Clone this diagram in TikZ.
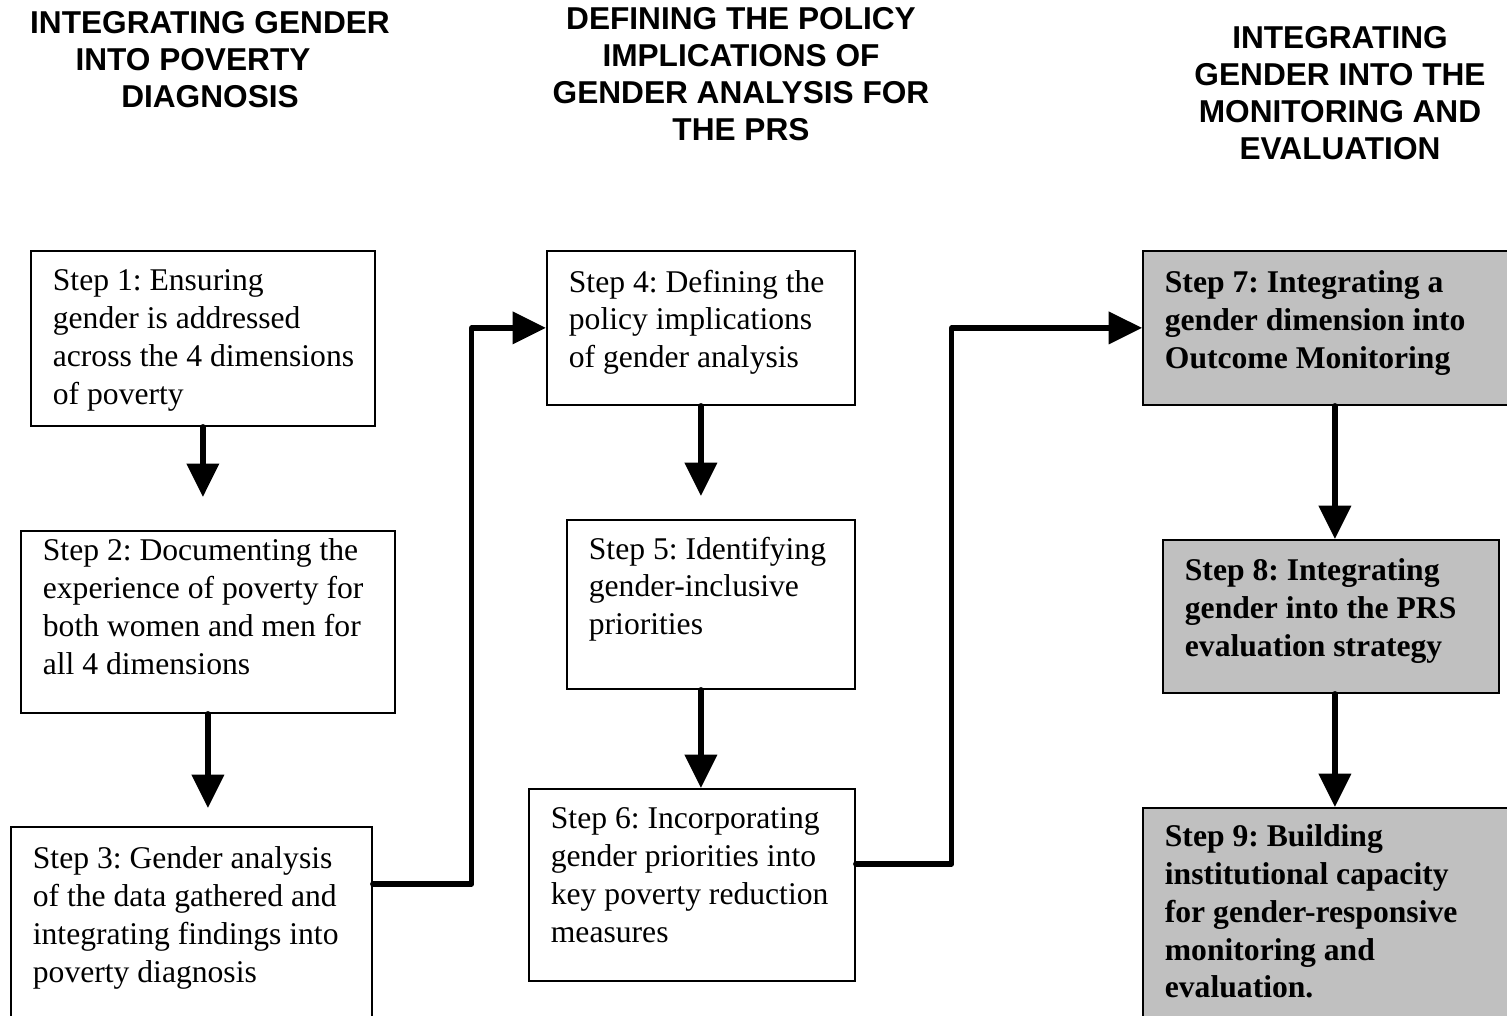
\documentclass[tikz,border=0pt]{standalone}
\usepackage{fontspec}
\setmainfont{Liberation Serif}
\setsansfont{Liberation Sans}
\usetikzlibrary{
  arrows.meta, % for the Triangle arrow tip
}
\frenchspacing
\newdimen\pxu \pxu=0.02cm % one pixel of the layout
\newcommand{\boxtext}[3]{% inner width, inner height, lines of a step box
  \parbox[t][#2\pxu][t]{#1\pxu}{\rightskip=-30\pxu plus 1fil\relax #3}}
\definecolor{boxgray}{RGB}{192,192,192}
\tikzset{
  stepbox/.style={ % style for a plain step box
    rectangle,draw,line width=1pt, % thin black frame
    anchor=north west, % placed by its top left corner
    inner xsep=22\pxu, % padding left and right of the text
    inner ysep=19\pxu, % padding above the text
    font=\fontsize{18}{21.5}\selectfont,
  },
  keybox/.style={ % style for the shaded boxes of the last phase
    stepbox, % inherit the step box style
    fill=boxgray, % add a fill color
    font=\fontsize{18}{21.5}\selectfont\bfseries,
  },
  heading/.style={ % style for the phase titles
    align=center,
    font=\sffamily\bfseries\fontsize{18}{21}\selectfont,
  },
  flow/.style={ % style for the connectors
    -{Triangle[length=19pt,width=18pt]}, % big solid arrow tip
    line width=3pt, % heavy line
    line cap=round, line join=round,
  },
}
\begin{document}
\begin{tikzpicture}[x=0.02cm, y=-0.02cm]
	\clip (0,0) rectangle (1507,1016);
	
	% phase titles
	\node[heading] (h1) at (210,60) {INTEGRATING GENDER\\INTO POVERTY\hspace*{34\pxu}\mbox{}\\DIAGNOSIS};
	
	\node[heading] (h2) at (741,74) {DEFINING THE POLICY\\IMPLICATIONS OF\\GENDER ANALYSIS FOR\\THE PRS};
	
	\node[heading] (h3) at (1340,93) {INTEGRATING\\GENDER INTO THE\\MONITORING AND\\EVALUATION};
	
	% first column
	\node[stepbox] (s1) at (30,250) {\boxtext{300}{137}{Step 1: Ensuring\\gender is addressed\\across the 4 dimensions\\of poverty}};
	
	\node[stepbox, inner ysep=8\pxu] (s2) at (20,530) {\boxtext{330}{166}{Step 2: Documenting the\\experience of poverty for\\both women and men for\\all 4 dimensions}};
	
	\node[stepbox, inner ysep=20\pxu] (s3) at (10,826) {\boxtext{317}{180}{Step 3: Gender analysis\\of the data gathered and\\integrating findings into\\poverty diagnosis}};
	
	% second column
	\node[stepbox] (s4) at (546,250) {\boxtext{264}{116}{Step 4: Defining the\\policy implications\\of gender analysis}};
	
	\node[stepbox, inner ysep=17\pxu] (s5) at (566,519) {\boxtext{244}{135}{Step 5: Identifying\\gender-inclusive\\priorities}};
	
	\node[stepbox] (s6) at (528,788) {\boxtext{282}{154}{Step 6: Incorporating\\gender priorities into\\key poverty reduction\\measures}};
	
	% third column
	\node[keybox, inner ysep=20\pxu] (s7) at (1142,250) {\boxtext{340}{114}{Step 7: Integrating a\\gender dimension into\\Outcome Monitoring}};
	
	\node[keybox] (s8) at (1162,539) {\boxtext{292}{115}{Step 8: Integrating\\gender into the PRS\\evaluation strategy}};
	
	\node[keybox, inner ysep=17\pxu] (s9) at (1142,807) {\boxtext{340}{206}{Step 9: Building\\institutional capacity\\for gender-responsive\\monitoring and\\evaluation.}};
	
	% connectors
	\draw[flow, shorten >=33\pxu] (s1.south) -- (s1.south |- s2.north);
	\draw[flow, shorten >=18\pxu] (s2.south) -- (s2.south |- s3.north);
	\draw[flow] (s3.north east) ++(0,58) -- ++(99,0) |- (s4.west);
	\draw[flow, shorten >=23\pxu] (s4.south) -- (s4.south |- s5.north);
	\draw[flow] (s5.south -| s4.south) -- (s4.south |- s6.north);
	\draw[flow] (s6.north east) ++(0,76) -- ++(96,0) |- (s7.west);
	\draw[flow] (s7.south) -- (s7.south |- s8.north);
	\draw[flow] (s8.south -| s7.south) -- (s7.south |- s9.north);
\end{tikzpicture}
\end{document}
